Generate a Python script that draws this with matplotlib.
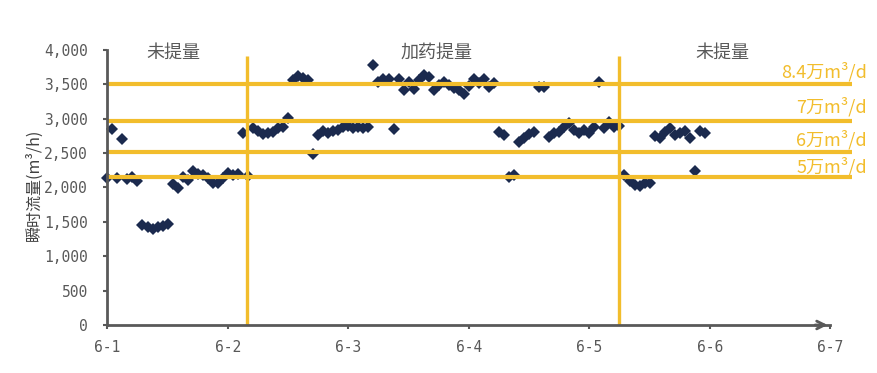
import matplotlib
matplotlib.use("Agg")
import matplotlib.pyplot as plt
import numpy as np

# hourly readings starting 6-1 00:00, instantaneous flow in m3/h
flow = [2134, 2846, 2140, 2701, 2130, 2150, 2100, 1455, 1420, 1392,
        1420, 1440, 1464, 2050, 1987, 2157, 2109, 2240, 2192, 2182,
        2133, 2070, 2070, 2133, 2206, 2182, 2196, 2795, 2170,
        2861, 2822, 2774, 2788, 2812, 2861, 2884, 3006, 3564, 3626,
        3588, 3564, 2480, 2764, 2822, 2788, 2822, 2836, 2884, 2899,
        2870, 2884, 2870, 2884, 3780, 3540, 3574, 3574, 2846, 3574,
        3418, 3540, 3428, 3564, 3636, 3603, 3418, 3491, 3540, 3491,
        3443, 3418, 3360, 3476, 3574, 3515, 3574, 3457, 3525, 2812,
        2764, 2157, 2182, 2666, 2715, 2778, 2812, 3467, 3457, 2739,
        2788, 2812, 2884, 2933, 2836, 2788, 2836, 2788, 2884, 3540,
        2861, 2957, 2884, 2900,
        2182, 2095, 2036, 2022, 2061, 2070, 2749, 2715, 2812, 2870,
        2760, 2788, 2815, 2715, 2240, 2820, 2790]
hours = np.arange(len(flow))

day_labels = ['6-1', '6-2', '6-3', '6-4', '6-5', '6-6', '6-7']
y_ticks = [0, 500, 1000, 1500, 2000, 2500, 3000, 3500, 4000]

# capacity lines (m3/h) and labels
cap_levels = [3500, 2970, 2510, 2155]
cap_labels = ['8.4万m³/d', '7万m³/d', '6万m³/d', '5万m³/d']

# phase switch times (days after 6-1 00:00) and phase names
switch_days = [1.157, 4.246]
phase_names = ['未提量', '加药提量', '未提量']

yellow = '#F2BD2C'
navy = '#1B2A4E'
grey = '#595959'
cjk = ['Noto Sans CJK SC', 'DejaVu Sans']
mono = ['DejaVu Sans Mono', 'Noto Sans CJK SC']

plt.rcParams['font.family'] = cjk

fig = plt.figure(figsize=(8.77, 3.73), dpi=100)
ax = fig.add_axes([0.1224, 0.1287, 0.8244, 0.7373])
ax.set_xlim(0, 6)
ax.set_ylim(0, 4000)

ax.plot(hours / 24, flow, 'D', color=navy, ms=6.2, mew=0, zorder=2, clip_on=False)

for lvl in cap_levels:
    ax.plot([0, 6.18], [lvl, lvl], color=yellow, lw=3, solid_capstyle='butt',
            zorder=3, clip_on=False)
for d in switch_days:
    ax.plot([d, d], [0, 3910], color=yellow, lw=2.4, solid_capstyle='butt',
            zorder=3, clip_on=False)

label_y = [3690, 3180, 2700, 2300]
for txt, yy in zip(cap_labels, label_y):
    ax.text(6.305, yy, txt, ha='right', va='center', color=yellow, fontsize=13)

for txt, xx in zip(phase_names, [0.55, 2.73, 5.10]):
    ax.text(xx, 3965, txt, ha='center', va='center', color=grey, fontsize=13)

for s in ['top', 'right']:
    ax.spines[s].set_visible(False)
for s in ['left', 'bottom']:
    ax.spines[s].set_color(grey)
    ax.spines[s].set_linewidth(2)
    ax.spines[s].set_zorder(4)

ax.annotate('', xy=(6.0, 0), xytext=(5.85, 0),
            arrowprops=dict(arrowstyle='->', color=grey, lw=2, mutation_scale=14),
            annotation_clip=False)

ax.set_xticks(range(7))
ax.set_xticklabels(day_labels, fontfamily=mono, fontsize=10.5)
ax.set_yticks(y_ticks)
ax.set_yticklabels([f'{v:,}' for v in y_ticks], fontfamily=mono, fontsize=10.5)
ax.tick_params(axis='both', direction='out', length=3, width=1.5, colors=grey)
ax.tick_params(axis='y', pad=11)
ax.tick_params(axis='x', pad=8)

ax.set_ylabel('瞬时流量(m³/h)', fontsize=11.5, color='#404040')
ax.yaxis.set_label_coords(-0.09, 0.51)

fig.savefig('out.png', dpi=100)
